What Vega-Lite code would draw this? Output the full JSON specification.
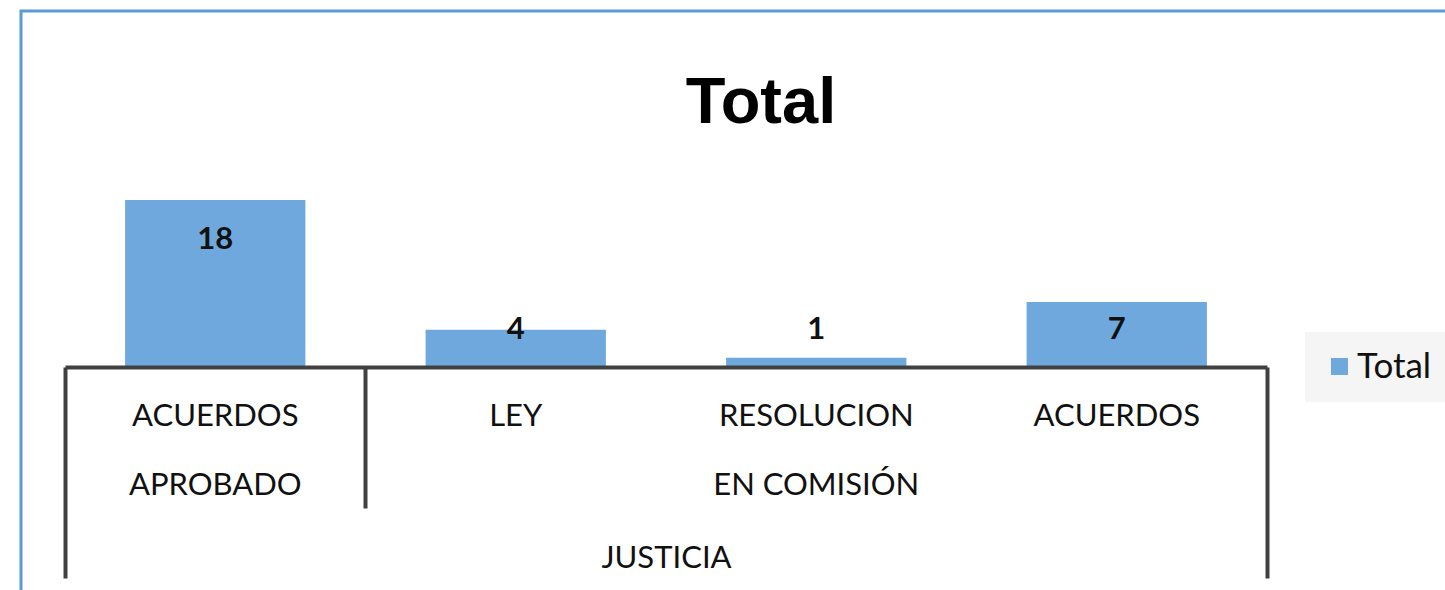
{
  "$schema": "https://vega.github.io/schema/vega-lite/v6.json",
  "autosize": {"type": "none"},
  "width": 1424,
  "height": 579,
  "padding": {"left": 21, "top": 11, "right": 0, "bottom": 0},
  "background": "white",
  "config": {
    "view": {"stroke": "#5b9bd5", "strokeWidth": 3, "strokeDash": [1424, 2003, 579]}
  },
  "title": {
    "text": "Total",
    "font": "Liberation Sans",
    "fontSize": 65,
    "fontWeight": "bold",
    "color": "#000000",
    "anchor": "middle",
    "baseline": "alphabetic",
    "offset": -177,
    "dx": 28
  },
  "data": {
    "values": [
      {"Comision": "JUSTICIA", "Estado": "APROBADO", "Tipo": "ACUERDOS", "clave": "APROBADO|ACUERDOS", "Total": 18},
      {"Comision": "JUSTICIA", "Estado": "EN COMISIÓN", "Tipo": "LEY", "clave": "EN COMISIÓN|LEY", "Total": 4},
      {"Comision": "JUSTICIA", "Estado": "EN COMISIÓN", "Tipo": "RESOLUCION", "clave": "EN COMISIÓN|RESOLUCION", "Total": 1},
      {"Comision": "JUSTICIA", "Estado": "EN COMISIÓN", "Tipo": "ACUERDOS", "clave": "EN COMISIÓN|ACUERDOS", "Total": 7}
    ]
  },
  "layer": [
    {
      "mark": {"type": "bar", "width": {"band": 0.6}},
      "encoding": {
        "x": {
          "field": "clave",
          "type": "nominal",
          "sort": null,
          "scale": {"range": [44, 1246], "paddingInner": 0, "paddingOuter": 0},
          "axis": {
            "orient": "bottom",
            "offset": -223,
            "domain": true,
            "domainColor": "#404040",
            "domainWidth": 4,
            "ticks": true,
            "bandPosition": 0,
            "tickSize": 211,
            "tickWidth": 4,
            "tickColor": "#404040",
            "tickOpacity": {"condition": {"test": "datum.value == 'APROBADO|ACUERDOS'", "value": 1}, "value": 0},
            "labelExpr": "split(datum.label, '|')[1]",
            "labelPadding": -153,
            "labelBaseline": "alphabetic",
            "labelFont": "Lato",
            "labelFontSize": 31,
            "labelColor": "#111111",
            "labelAngle": 0,
            "labelLimit": 0,
            "labelOverlap": false,
            "grid": false,
            "title": null,
            "zindex": 1
          }
        },
        "y": {
          "field": "Total",
          "type": "quantitative",
          "scale": {"domain": [-24.03, 38.36], "nice": false},
          "axis": null
        },
        "color": {
          "datum": "Total",
          "type": "nominal",
          "scale": {"range": ["#6fa8dc"]},
          "legend": {
            "title": null,
            "orient": "none",
            "legendX": 1284,
            "legendY": 321,
            "symbolType": "square",
            "symbolSize": 289,
            "symbolStrokeWidth": 0,
            "labelFont": "Lato",
            "labelFontSize": 35,
            "labelColor": "#111111",
            "labelOffset": 0,
            "padding": 17,
            "fillColor": "#f5f5f5"
          }
        }
      }
    },
    {
      "transform": [{"calculate": "max(datum.Total - 4.3, 4)", "as": "y_etiqueta"}],
      "mark": {"type": "text", "font": "Lato", "fontSize": 31, "fontWeight": "bold", "color": "#111111", "baseline": "middle"},
      "encoding": {
        "x": {
          "field": "clave",
          "type": "nominal",
          "sort": null,
          "axis": {
            "orient": "bottom",
            "offset": -223,
            "domain": false,
            "ticks": true,
            "bandPosition": 1,
            "tickSize": {"condition": {"test": "datum.value == 'EN COMISIÓN|ACUERDOS'", "value": 211}, "value": 141},
            "tickOpacity": {"condition": {"test": "datum.value == 'APROBADO|ACUERDOS' || datum.value == 'EN COMISIÓN|ACUERDOS'", "value": 1}, "value": 0},
            "tickWidth": 4,
            "tickColor": "#404040",
            "labelExpr": "datum.value == 'APROBADO|ACUERDOS' || datum.value == 'EN COMISIÓN|RESOLUCION' ? split(datum.label, '|')[0] : ''",
            "labelPadding": -14,
            "labelBaseline": "alphabetic",
            "labelFont": "Lato",
            "labelFontSize": 31,
            "labelColor": "#111111",
            "labelAngle": 0,
            "labelLimit": 0,
            "labelOverlap": false,
            "grid": false,
            "title": "JUSTICIA",
            "titleFont": "Lato",
            "titleFontSize": 31,
            "titleFontWeight": "normal",
            "titleColor": "#111111",
            "titleBaseline": "alphabetic",
            "titleY": 200,
            "zindex": 1
          }
        },
        "y": {
          "field": "y_etiqueta",
          "type": "quantitative",
          "scale": {"domain": [-24.03, 38.36], "nice": false},
          "axis": null
        },
        "text": {"field": "Total", "type": "quantitative"}
      }
    }
  ],
  "resolve": {"axis": {"x": "independent"}}
}
